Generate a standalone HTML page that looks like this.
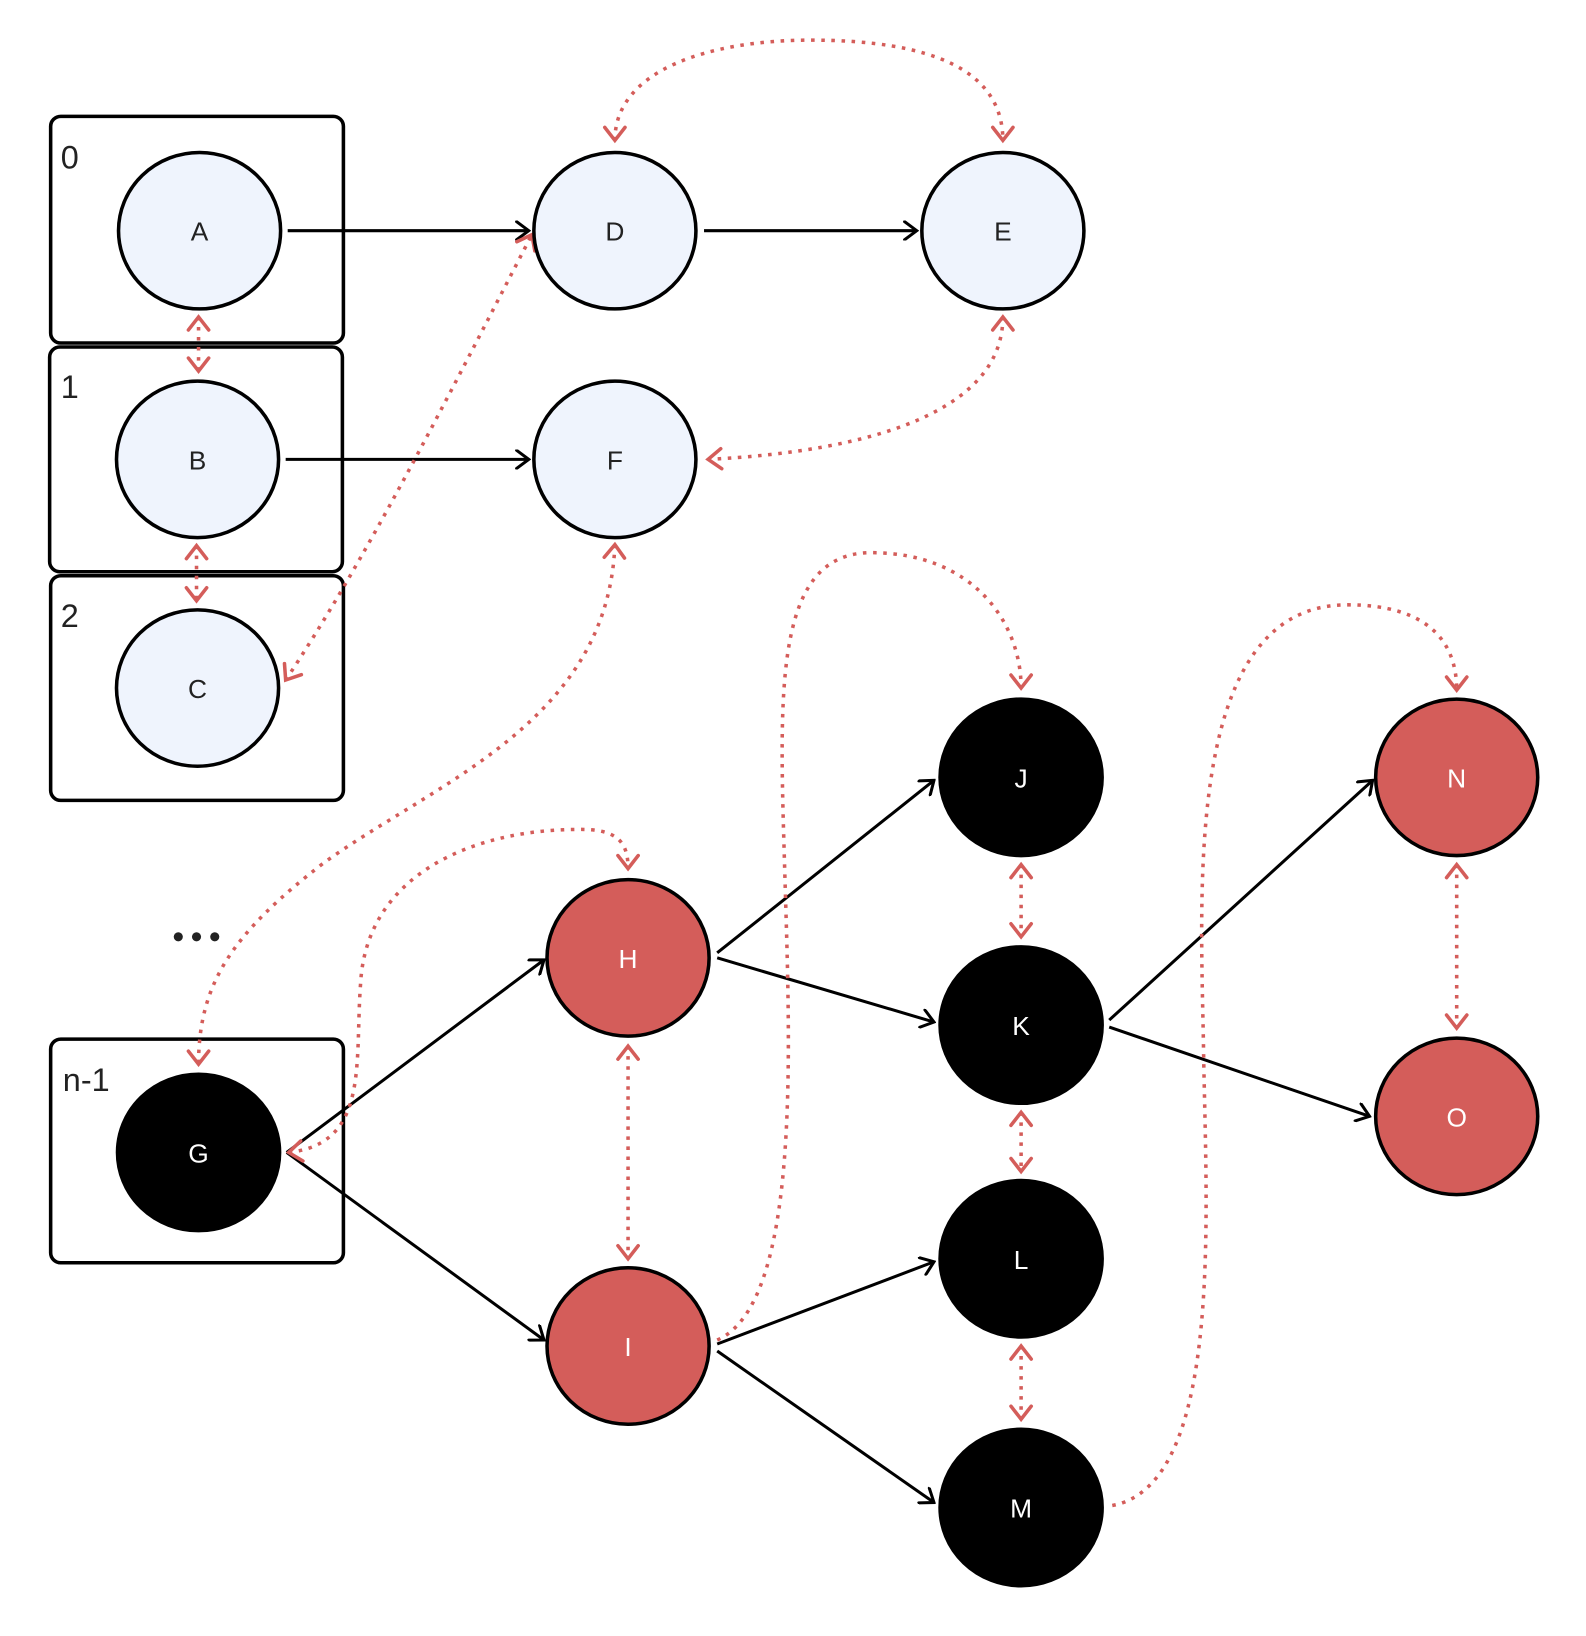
<!DOCTYPE html>
<html><head><meta charset="utf-8"><style>
html,body{margin:0;padding:0;background:#fff;}
svg{display:block;}
text{font-family:"Liberation Sans",sans-serif;}
</style></head><body>
<svg width="1586" height="1636" viewBox="0 0 1586 1636" xmlns="http://www.w3.org/2000/svg">
<defs>
<marker id="ab" viewBox="0 0 20 20" refX="18" refY="10" markerWidth="20" markerHeight="20" markerUnits="userSpaceOnUse" orient="auto">
<path d="M6,1 L18,10 L6,19" fill="none" stroke="#000" stroke-width="3" stroke-linecap="round"/></marker>
<marker id="ar" viewBox="0 0 24 24" refX="21" refY="12" markerWidth="24" markerHeight="24" markerUnits="userSpaceOnUse" orient="auto-start-reverse">
<path d="M8,2 L21,12 L8,22" fill="none" stroke="#d45d5a" stroke-width="3.5" stroke-linecap="round"/></marker>
</defs>
<g transform="scale(1.013,1.003)">
<g fill="none" stroke="#000" stroke-width="3.5">
<rect x="50" y="116" width="289" height="226" rx="10"/>
<rect x="49" y="346" width="289" height="224" rx="10"/>
<rect x="50" y="574" width="289" height="224" rx="10"/>
<rect x="50" y="1036" width="289" height="223" rx="10"/>
</g>
<g font-size="32" fill="#222">
<text x="60" y="168">0</text><text x="60" y="397">1</text><text x="60" y="625">2</text><text x="62" y="1088">n-1</text>
</g>
<g fill="#222"><circle cx="176" cy="934" r="4.5"/><circle cx="194" cy="934" r="4.5"/><circle cx="212" cy="934" r="4.5"/></g>

<g stroke="#000" stroke-width="3" fill="none" marker-end="url(#ab)">
<line x1="284" y1="230" x2="522" y2="230"/>
<line x1="695" y1="230" x2="905" y2="230"/>
<line x1="282" y1="458" x2="522" y2="458"/>
<line x1="283" y1="1149" x2="537" y2="957"/>
<line x1="283" y1="1149" x2="537" y2="1336"/>
<line x1="708" y1="950" x2="922" y2="778"/>
<line x1="708" y1="955" x2="922" y2="1019"/>
<line x1="708" y1="1340" x2="922" y2="1258"/>
<line x1="708" y1="1347" x2="922" y2="1498"/>
<line x1="1095" y1="1017" x2="1355" y2="778"/>
<line x1="1095" y1="1024" x2="1352" y2="1113"/>
</g>

<g stroke="#d45d5a" stroke-width="3.5" fill="none" stroke-dasharray="3.5 6.5">
<path d="M196,316 L196,370" marker-start="url(#ar)" marker-end="url(#ar)"/>
<path d="M194,544 L194,599" marker-start="url(#ar)" marker-end="url(#ar)"/>
<path d="M607,140 C607,70 700,40 800,40 C920,40 990,70 990,140" marker-start="url(#ar)" marker-end="url(#ar)"/>
<path d="M282,678 C360,560 440,400 525,234" marker-start="url(#ar)" marker-end="url(#ar)"/>
<path d="M990,316 C990,410 860,450 699,458" marker-start="url(#ar)" marker-end="url(#ar)"/>
<path d="M607,543 C600,720 430,780 320,860 C230,930 196,980 196,1061" marker-start="url(#ar)" marker-end="url(#ar)"/>
<path d="M285,1149 C365,1140 350,1060 356,980 C362,870 470,827 570,827 C610,826 620,840 620,866" marker-start="url(#ar)" marker-end="url(#ar)"/>
<path d="M620,1043 L620,1255" marker-start="url(#ar)" marker-end="url(#ar)"/>
<path d="M708,1336 C790,1300 780,1050 775,880 C770,700 760,551 860,551 C960,551 1008,620 1008,686" marker-end="url(#ar)"/>
<path d="M1008,862 L1008,934" marker-start="url(#ar)" marker-end="url(#ar)"/>
<path d="M1008,1109 L1008,1168" marker-start="url(#ar)" marker-end="url(#ar)"/>
<path d="M1008,1342 L1008,1415" marker-start="url(#ar)" marker-end="url(#ar)"/>
<path d="M1098,1501 C1210,1480 1190,1200 1188,1040 C1185,880 1170,603 1330,603 C1410,603 1438,640 1438,688" marker-end="url(#ar)"/>
<path d="M1438,862 L1438,1025" marker-start="url(#ar)" marker-end="url(#ar)"/>
</g>

<g stroke="#000" stroke-width="3.5">
<g fill="#eff4fd">
<ellipse cx="197" cy="230" rx="80" ry="78"/>
<ellipse cx="195" cy="458" rx="80" ry="78"/>
<ellipse cx="195" cy="686" rx="80" ry="78"/>
<ellipse cx="607" cy="230" rx="80" ry="78"/>
<ellipse cx="990" cy="230" rx="80" ry="78"/>
<ellipse cx="607" cy="458" rx="80" ry="78"/>
</g>
<g fill="#000">
<ellipse cx="196" cy="1149" rx="80" ry="78"/>
<ellipse cx="1008" cy="775" rx="80" ry="78"/>
<ellipse cx="1008" cy="1022" rx="80" ry="78"/>
<ellipse cx="1008" cy="1255" rx="80" ry="78"/>
<ellipse cx="1008" cy="1503" rx="80" ry="78"/>
</g>
<g fill="#d45d5a">
<ellipse cx="620" cy="955" rx="80" ry="78"/>
<ellipse cx="620" cy="1342" rx="80" ry="78"/>
<ellipse cx="1438" cy="775" rx="80" ry="78"/>
<ellipse cx="1438" cy="1113" rx="80" ry="78"/>
</g>
</g>

<g font-size="26" text-anchor="middle">
<g fill="#222">
<text x="197" y="240">A</text><text x="195" y="468">B</text><text x="195" y="696">C</text>
<text x="607" y="240">D</text><text x="990" y="240">E</text><text x="607" y="468">F</text>
</g>
<g fill="#fff">
<text x="196" y="1159">G</text><text x="620" y="965">H</text><text x="620" y="1352">I</text>
<text x="1008" y="785">J</text><text x="1008" y="1032">K</text><text x="1008" y="1265">L</text><text x="1008" y="1513">M</text>
<text x="1438" y="785">N</text><text x="1438" y="1123">O</text>
</g>
</g>
</g>
</svg>
</body></html>
